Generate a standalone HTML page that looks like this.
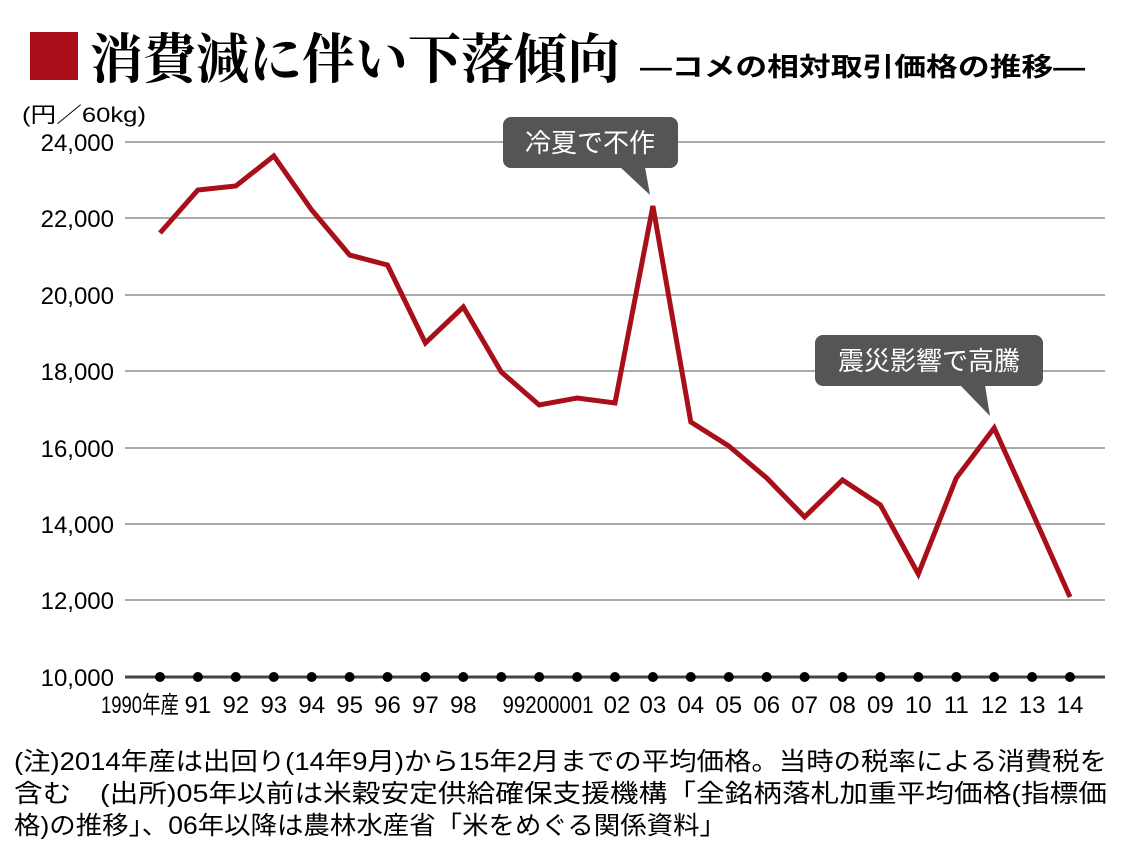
<!DOCTYPE html>
<html><head><meta charset="utf-8"><style>
html,body{margin:0;padding:0;background:#fff;}
svg{display:block;}
text{font-family:"Liberation Sans","Noto Sans CJK JP",sans-serif;}
</style></head><body>
<svg width="1140" height="866" viewBox="0 0 1140 866" xmlns="http://www.w3.org/2000/svg">
<rect x="30" y="32" width="48" height="48" fill="#a80f18"/>
<text x="90" y="78" font-size="54" font-weight="bold" textLength="530" lengthAdjust="spacingAndGlyphs" style="font-family:'Noto Serif CJK SC',serif">消費減に伴い下落傾向</text>
<text x="640" y="76" font-size="26" font-weight="bold" textLength="445" lengthAdjust="spacingAndGlyphs">―コメの相対取引価格の推移―</text>
<text x="22" y="122" font-size="21" textLength="124" lengthAdjust="spacingAndGlyphs">(円／60kg)</text>
<g stroke="#aaa" stroke-width="2">
<line x1="125" y1="142" x2="1105" y2="142"/><line x1="125" y1="218" x2="1105" y2="218"/>
<line x1="125" y1="295" x2="1105" y2="295"/><line x1="125" y1="371" x2="1105" y2="371"/>
<line x1="125" y1="448" x2="1105" y2="448"/><line x1="125" y1="524" x2="1105" y2="524"/>
<line x1="125" y1="600" x2="1105" y2="600"/>
</g>
<line x1="125" y1="677" x2="1105" y2="677" stroke="#444" stroke-width="3"/>
<g font-size="24" text-anchor="end">
<text x="114" y="151">24,000</text><text x="114" y="227">22,000</text><text x="114" y="304">20,000</text>
<text x="114" y="380">18,000</text><text x="114" y="457">16,000</text><text x="114" y="533">14,000</text>
<text x="114" y="609">12,000</text><text x="114" y="686">10,000</text>
</g>
<g fill="#000">
<circle cx="160" cy="677" r="5"/><circle cx="197.9" cy="677" r="5"/><circle cx="235.8" cy="677" r="5"/><circle cx="273.8" cy="677" r="5"/><circle cx="311.7" cy="677" r="5"/><circle cx="349.6" cy="677" r="5"/><circle cx="387.5" cy="677" r="5"/><circle cx="425.4" cy="677" r="5"/><circle cx="463.3" cy="677" r="5"/><circle cx="501.3" cy="677" r="5"/><circle cx="539.2" cy="677" r="5"/><circle cx="577.1" cy="677" r="5"/><circle cx="615" cy="677" r="5"/><circle cx="652.9" cy="677" r="5"/><circle cx="690.8" cy="677" r="5"/><circle cx="728.8" cy="677" r="5"/><circle cx="766.7" cy="677" r="5"/><circle cx="804.6" cy="677" r="5"/><circle cx="842.5" cy="677" r="5"/><circle cx="880.4" cy="677" r="5"/><circle cx="918.3" cy="677" r="5"/><circle cx="956.3" cy="677" r="5"/><circle cx="994.2" cy="677" r="5"/><circle cx="1032.1" cy="677" r="5"/><circle cx="1070" cy="677" r="5"/>
</g>
<polyline fill="none" stroke="#a80f18" stroke-width="5" points="160,233 197.9,190 235.8,186 273.8,156 311.7,210 349.6,255 387.5,265 425.4,343 463.3,307 501.3,372 539.2,405 577.1,398 615,403 652.9,206 690.8,422 728.8,446 766.7,478 804.6,517 842.5,480 880.4,505 918.3,574 956.3,478 994.2,428 1032.1,512 1070,597"/>
<g font-size="24" text-anchor="middle">
<text x="140" y="713" textLength="78" lengthAdjust="spacingAndGlyphs">1990年産</text>
<text x="197.9" y="713">91</text><text x="235.8" y="713">92</text><text x="273.8" y="713">93</text><text x="311.7" y="713">94</text><text x="349.6" y="713">95</text><text x="387.5" y="713">96</text><text x="425.4" y="713">97</text><text x="463.3" y="713">98</text>
<text x="548" y="713" textLength="91" lengthAdjust="spacingAndGlyphs">99200001</text>
<text x="617" y="713">02</text><text x="652.9" y="713">03</text><text x="690.8" y="713">04</text><text x="728.8" y="713">05</text><text x="766.7" y="713">06</text><text x="804.6" y="713">07</text><text x="842.5" y="713">08</text><text x="880.4" y="713">09</text><text x="918.3" y="713">10</text><text x="956.3" y="713">11</text><text x="994.2" y="713">12</text><text x="1032.1" y="713">13</text><text x="1070" y="713">14</text>
</g>
<rect x="503" y="117" width="175" height="51" rx="8" fill="#555"/>
<polygon points="620,167 645,167 650,195" fill="#555"/>
<text x="590" y="152" font-size="26" fill="#fff" text-anchor="middle">冷夏で不作</text>
<rect x="815" y="335" width="228" height="51" rx="8" fill="#555"/>
<polygon points="960,385 985,385 990,416" fill="#555"/>
<text x="929" y="370" font-size="26" fill="#fff" text-anchor="middle">震災影響で高騰</text>
<g font-size="25">
<text x="14" y="770" textLength="1093" lengthAdjust="spacingAndGlyphs">(注)2014年産は出回り(14年9月)から15年2月までの平均価格。当時の税率による消費税を</text>
<text x="14" y="802" textLength="1093" lengthAdjust="spacingAndGlyphs">含む　(出所)05年以前は米穀安定供給確保支援機構「全銘柄落札加重平均価格(指標価</text>
<text x="14" y="834" textLength="712" lengthAdjust="spacingAndGlyphs">格)の推移」、06年以降は農林水産省「米をめぐる関係資料」</text>
</g>
</svg>
</body></html>
